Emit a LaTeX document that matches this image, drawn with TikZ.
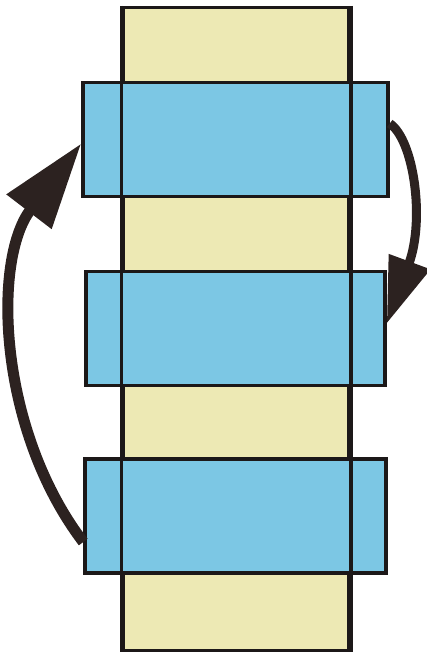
\documentclass[tikz,border=0pt]{standalone}
\usepackage{tikz}
\usetikzlibrary{arrows.meta}
\usepackage{xcolor}
\definecolor{sandyellow}{RGB}{237, 233, 180}
\definecolor{slabblue}{RGB}{124, 199, 228}
\definecolor{inkdark}{RGB}{28, 24, 24}
\definecolor{arrowbrown}{RGB}{44, 34, 32}

\begin{document}
\begin{tikzpicture}[x=1pt, y=-1pt,
  column/.style={draw=inkdark, line width=3.5pt, fill=sandyellow, inner sep=0pt, minimum width=226pt, minimum height=643pt},
  slab/.style={draw=inkdark, line width=3.5pt, fill=slabblue, inner sep=0pt, minimum height=114pt},
  bigarrow/.style={arrowbrown, line width=11pt}]

  \useasboundingbox (0, 0) rectangle (427, 653);

  % --- The yellow column ---
  \node[column] (col) at (236, 329) {};

  % --- Blue slabs ---
  \node[slab, minimum width=305pt] (slabA) at (235.5, 139.5) {};
  \node[slab, minimum width=299pt] (slabB) at (235.5, 328.5) {};
  \node[slab, minimum width=301pt] (slabC) at (235.5, 516) {};

  % Column edges seen through the slabs
  \draw[inkdark, line width=3.5pt] (col.north west) -- (col.south west);
  \draw[inkdark, line width=3.5pt] (col.north east) -- (col.south east);

  % --- Left arrow: bottom slab up to top slab ---
  \draw[bigarrow, -{Triangle[length=86pt, width=54pt]}]
    ([yshift=-26pt]slabC.west) .. controls (-2, 430) and (-8, 260) .. ([yshift=-4pt]slabA.west);

  % --- Right arrow: top slab down to middle slab ---
  \draw[bigarrow, line width=9pt, -{Triangle[length=66pt, width=42pt]}]
    ([yshift=16pt]slabA.east) .. controls (414, 140) and (425, 220) .. ([yshift=5pt]slabB.east);

\end{tikzpicture}
\end{document}
